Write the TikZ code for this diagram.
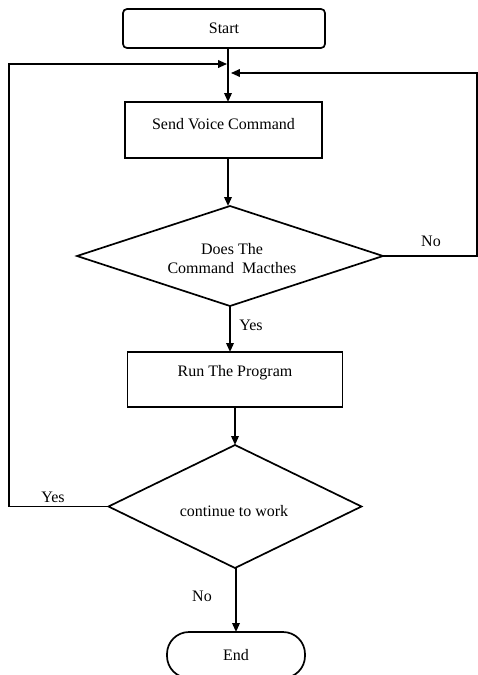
\documentclass[tikz,border=0pt]{standalone}
\usepackage{fontspec}
\setmainfont{Liberation Serif}
\usetikzlibrary{shapes.geometric,arrows.meta}
\begin{document}
\begin{tikzpicture}[x=1pt,y=-1pt,
  every node/.style={font=\fontsize{16}{19}\selectfont, inner sep=0pt, outer sep=0pt},
  box/.style={draw, line width=1.7pt, rectangle},
  dia/.style={draw, line width=1.7pt, diamond, align=center},
  arr/.style={line width=1.9pt, -{Triangle[length=9pt,width=7.5pt]}},
  lbl/.style={}]
\useasboundingbox (0,0) rectangle (478,675);
\clip (0,0) rectangle (478,675);
% nodes
\node[box, rounded corners=4pt, minimum width=202pt, minimum height=39pt] (start) at (224,28.5) {Start};
\node[box, minimum width=197pt, minimum height=56pt, text height=11pt, text depth=12pt] (send) at (223.5,130) {Send Voice Command};
\node[dia, minimum width=306pt, minimum height=100pt] (d1) at (230,256) {};
\node (d1t) at (232,259) [align=center] {Does The\\Command\ \ Macthes};
\node[box, minimum width=215pt, minimum height=55pt, text height=11pt, text depth=17pt] (run) at (235,379.5) {Run The Program};
\node[dia, minimum width=253pt, minimum height=123pt] (d2) at (235,506.5) {};
\node (d2t) at (234,511) {continue to work};
\node[box, rounded corners=22pt, minimum width=138pt, minimum height=46pt] (end) at (236,655) {End};
% labels
\node[lbl] (lno1) at (431,241) {No};
\node[lbl] (lyes1) at (251,325) {Yes};
\node[lbl] (lyes2) at (53,497) {Yes};
\node[lbl] (lno2) at (202,596) {No};
% junction coordinates
\coordinate (jL) at (228,64);
\coordinate (jR) at (230,73);
\coordinate (cL) at (9,64);
\coordinate (cLb) at (9,506.5);
\coordinate (cR) at (477,73);
\coordinate (cRb) at (477,256);
\coordinate (jB) at (235,445);
% connectors
\draw[arr] (start.south -| jL) -- (jL |- send.north);
\draw[arr] (d2.west) -- (cLb) -- (cL) -- ([xshift=-0.9pt]jL);
\draw[arr] (d1.east) -- (cRb) -- (cR) -- ([xshift=0.9pt]jR);
\draw[arr] (send.south -| jL) -- (jL |- d1.north);
\draw[arr] (d1.south) -- (d1.south |- run.north);
\draw[arr] (run.south -| jB) -- (jB);
\draw[arr] (d2.south -| end.north) -- (end.north);
\end{tikzpicture}
\end{document}
